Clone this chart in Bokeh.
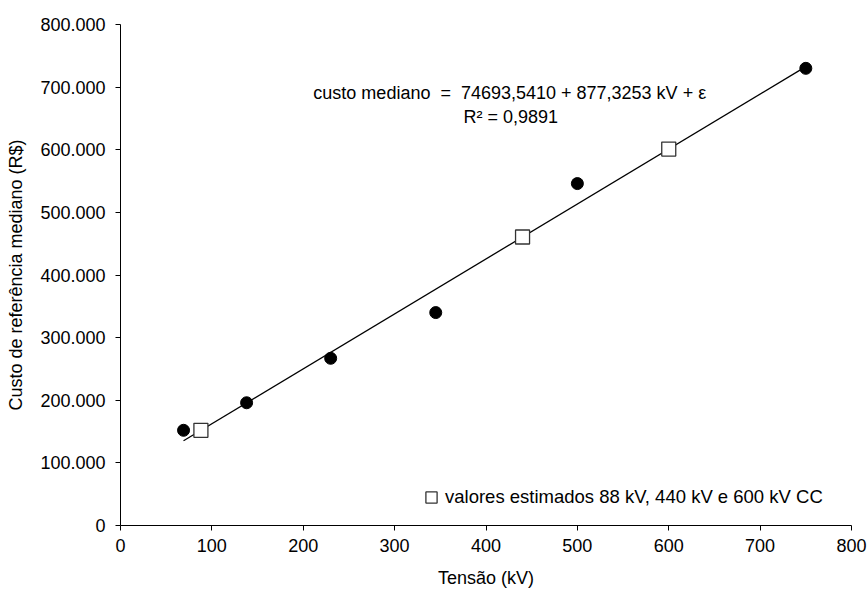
from bokeh.plotting import figure
from bokeh.models import Label, Legend, LegendItem, FixedTicker
from bokeh.embed import file_html
from bokeh.resources import INLINE

# ---- data ----
tensao_kv = [69, 138, 230, 345, 500, 750]
custo_mediano = [152000, 196000, 267000, 340000, 546000, 730000]

estimado_kv = [88, 440, 600]
estimado_custo = [151900, 460700, 601100]

trend_kv = [69, 750]
trend_custo = [135229, 732687]

x_ticks = [0, 100, 200, 300, 400, 500, 600, 700, 800]
y_ticks = [0, 100000, 200000, 300000, 400000, 500000, 600000, 700000, 800000]
y_tick_labels = ["0", "100.000", "200.000", "300.000", "400.000",
                 "500.000", "600.000", "700.000", "800.000"]

equation_text = "custo mediano \u00a0=\u00a0 74693,5410 + 877,3253 kV + \u03b5"
r2_text = "R\u00b2 = 0,9891"
legend_text = "valores estimados 88 kV, 440 kV e 600 kV CC"

FONT = "Liberation Sans"
FS = "18px"

p = figure(width=868, height=591, output_backend="svg", toolbar_location=None,
           x_range=(0, 800), y_range=(0, 800000),
           min_border_left=120, min_border_right=17, min_border_top=24,
           min_border_bottom=66)
p.outline_line_color = None
p.xgrid.visible = False
p.ygrid.visible = False
p.background_fill_color = "white"
p.border_fill_color = "white"

p.line(trend_kv, trend_custo, line_color="black", line_width=1.3)
p.scatter(tensao_kv, custo_mediano, marker="circle", size=12,
          fill_color="black", line_color="black")
sq = p.scatter(estimado_kv, estimado_custo, marker="square", size=14,
               fill_color="white", line_color="#333333", line_width=1.3)

for ax in (p.xaxis[0], p.yaxis[0]):
    ax.axis_line_color = "black"
    ax.axis_line_width = 1
    ax.major_tick_line_color = "black"
    ax.major_tick_in = 0
    ax.major_tick_out = 5
    ax.minor_tick_line_color = None
    ax.major_label_text_font = FONT
    ax.major_label_text_font_size = FS
    ax.major_label_text_color = "black"
    ax.axis_label_text_font = FONT
    ax.axis_label_text_font_size = FS
    ax.axis_label_text_font_style = "normal"
    ax.axis_label_text_color = "black"

p.xaxis.ticker = FixedTicker(ticks=x_ticks)
p.yaxis.ticker = FixedTicker(ticks=y_ticks)
p.yaxis.major_label_overrides = {t: l for t, l in zip(y_ticks, y_tick_labels)}
p.xaxis.axis_label = "Tensão (kV)"
p.yaxis.axis_label = "Custo de referência mediano (R$)"
p.xaxis.major_label_standoff = 8
p.yaxis.major_label_standoff = 10
p.xaxis.axis_label_standoff = 13
p.yaxis.axis_label_standoff = 11

p.add_layout(Label(x=426, y=690000, text=equation_text, text_align="center",
                   text_baseline="middle", text_font=FONT,
                   text_font_size=FS, text_color="black"))
p.add_layout(Label(x=427, y=653000, text=r2_text, text_align="center",
                   text_baseline="middle", text_font=FONT,
                   text_font_size=FS, text_color="black"))

legend = Legend(items=[LegendItem(label=legend_text, renderers=[sq])],
                location=(297, 14), padding=0, margin=0, spacing=0,
                glyph_width=28, glyph_height=28, label_standoff=0,
                label_text_font=FONT, label_text_font_size="18.5px",
                label_text_color="black", border_line_color=None,
                background_fill_alpha=0)
p.add_layout(legend)

open("out.html", "w").write(file_html(p, INLINE))
